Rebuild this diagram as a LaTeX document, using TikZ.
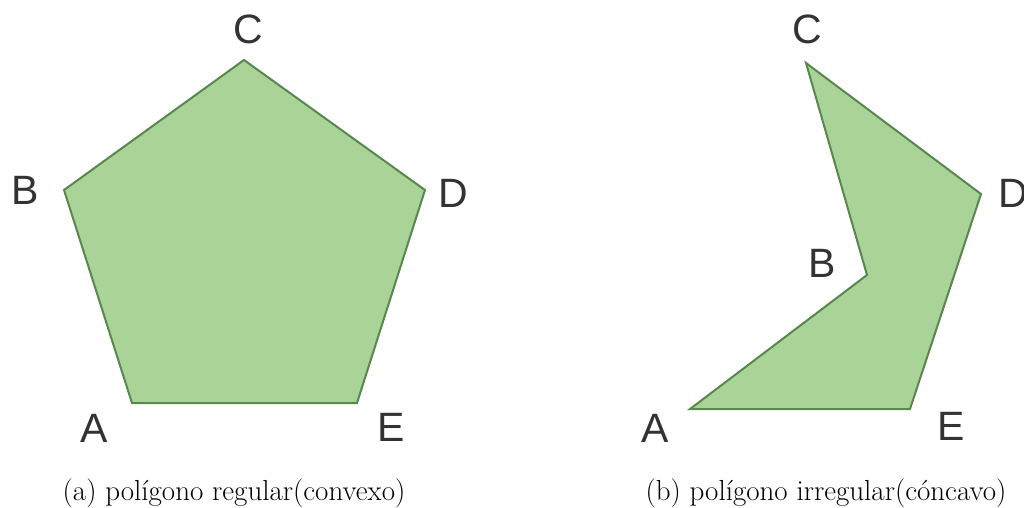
\documentclass[tikz,border=0pt]{standalone}
\usepackage{fontspec}
\newfontfamily\labfont{Liberation Sans}
\definecolor{polyfill}{RGB}{169,211,151}
\definecolor{polyline}{RGB}{88,136,78}
\definecolor{labcol}{RGB}{51,51,51}
\begin{document}
\begin{tikzpicture}[x=1pt,y=-1pt,
  poly/.style={fill=polyfill,draw=polyline,line width=2pt,line join=miter},
  vlab/.style={font=\labfont\fontsize{41}{41}\selectfont,text=labcol,inner sep=0pt,anchor=center},
  captext/.style={font=\fontsize{29}{34}\selectfont,inner sep=0pt,anchor=center}]
\useasboundingbox (0,0) rectangle (1024,507);
% left pentagon
\coordinate (lA) at (132,403);
\coordinate (lB) at (64,190);
\coordinate (lC) at (244,60);
\coordinate (lD) at (425,190);
\coordinate (lE) at (357,403);
\draw[poly] (lA) -- (lB) -- (lC) -- (lD) -- (lE) -- cycle;
\node[vlab] (tlC) at (248,29) {C};
\node[vlab] (tlB) at (25,190) {B};
\node[vlab] (tlD) at (453,193) {D};
\node[vlab] (tlA) at (94,428) {A};
\node[vlab] (tlE) at (391,427) {E};
% right polygon
\coordinate (rA) at (690,409);
\coordinate (rB) at (867,275);
\coordinate (rC) at (806,63);
\coordinate (rD) at (981,194);
\coordinate (rE) at (910,409);
\draw[poly] (rA) -- (rB) -- (rC) -- (rD) -- (rE) -- cycle;
\node[vlab] (trC) at (807,29) {C};
\node[vlab] (trB) at (822,263) {B};
\node[vlab] (trD) at (1013,193) {D};
\node[vlab] (trA) at (655,428) {A};
\node[vlab] (trE) at (951,426) {E};
% captions
\node[captext] (capa) at (234,493) {(a) polígono regular(convexo)};
\node[captext] (capb) at (826,493) {(b) polígono irregular(cóncavo)};
\end{tikzpicture}
\end{document}
